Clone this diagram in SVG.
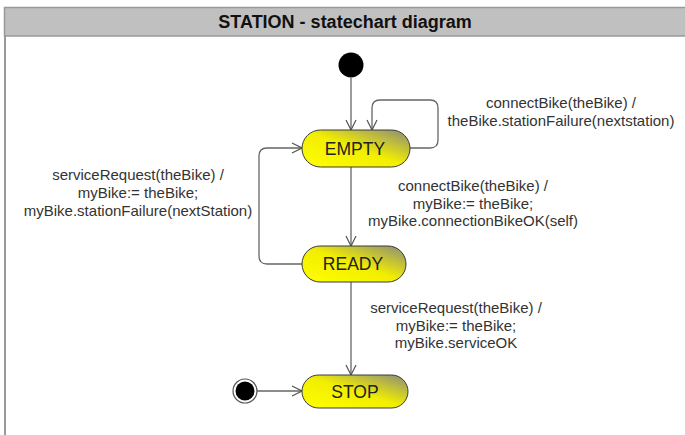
<svg xmlns="http://www.w3.org/2000/svg" width="685" height="435" viewBox="0 0 685 435">
  <defs>
    <linearGradient id="stateFill" x1="0" y1="1" x2="1" y2="0">
      <stop offset="0" stop-color="#ffff00"/>
      <stop offset="0.5" stop-color="#f2ee00"/>
      <stop offset="1" stop-color="#8a8a7c"/>
    </linearGradient>
    <marker id="open" viewBox="0 0 12 12" refX="11" refY="6" markerWidth="12" markerHeight="12" markerUnits="userSpaceOnUse" orient="auto">
      <path d="M1,1 L11,6 L1,11" fill="none" stroke="#555" stroke-width="1.2"/>
    </marker>
  </defs>
  <style>
    .frame { fill: #c0c0c0; stroke: #999; stroke-width: 1.5; }
    .title { font-family: "Liberation Sans", Arial, sans-serif; font-size: 18px; font-weight: bold; fill: #111; text-anchor: middle; }
    .state { fill: url(#stateFill); stroke: #3a3a3a; stroke-width: 1; }
    .stateText { font-family: "Liberation Sans", Arial, sans-serif; font-size: 17.5px; fill: #222; text-anchor: middle; }
    .edge { fill: none; stroke: #666; stroke-width: 1.3; }
    .label { font-family: "Liberation Sans", Arial, sans-serif; font-size: 15px; fill: #333; text-anchor: middle; }
  </style>

  <rect width="685" height="435" fill="#fff"/>

  <!-- frame: title bar and left border -->
  <g id="frame">
    <line x1="5" y1="36" x2="5" y2="435" stroke="#999" stroke-width="2"/>
    <rect class="frame" x="4.5" y="7.5" width="682" height="28.5"/>
    <text class="title" x="345" y="28">STATION - statechart diagram</text>
  </g>

  <!-- transitions -->
  <g id="connectors">
    <line class="edge" x1="351" y1="78" x2="351" y2="130" marker-end="url(#open)"/>
    <path class="edge" d="M410,148 H430 Q438,148 438,140 V108 Q438,100 430,100 H380 Q372,100 372,108 V130" marker-end="url(#open)"/>
    <line class="edge" x1="351" y1="167" x2="351" y2="246" marker-end="url(#open)"/>
    <path class="edge" d="M302,264 H267 Q259,264 259,256 V156 Q259,148 267,148 H302" marker-end="url(#open)"/>
    <line class="edge" x1="351" y1="282" x2="351" y2="375" marker-end="url(#open)"/>
    <line class="edge" x1="257" y1="391" x2="302" y2="391" marker-end="url(#open)"/>
  </g>

  <!-- transition labels -->
  <g id="labels">
    <text class="label" x="561" y="108">connectBike(theBike) /</text>
    <text class="label" x="561" y="126">theBike.stationFailure(nextstation)</text>
    <text class="label" x="138" y="180">serviceRequest(theBike) /</text>
    <text class="label" x="138" y="198">myBike:= theBike;</text>
    <text class="label" x="138" y="216">myBike.stationFailure(nextStation)</text>
    <text class="label" x="473" y="191">connectBike(theBike) /</text>
    <text class="label" x="473" y="209">myBike:= theBike;</text>
    <text class="label" x="473" y="226">myBike.connectionBikeOK(self)</text>
    <text class="label" x="456" y="313">serviceRequest(theBike) /</text>
    <text class="label" x="456" y="331">myBike:= theBike;</text>
    <text class="label" x="456" y="348">myBike.serviceOK</text>
  </g>

  <!-- initial pseudostate -->
  <g id="initial">
    <circle cx="351" cy="65" r="12.5" fill="#000"/>
  </g>

  <g id="empty">
    <rect class="state" x="302" y="130" width="108" height="37" rx="18.5"/>
    <text class="stateText" x="355" y="154.5">EMPTY</text>
  </g>

  <g id="ready">
    <rect class="state" x="302" y="246" width="104" height="36" rx="18"/>
    <text class="stateText" x="353" y="270">READY</text>
  </g>

  <g id="stop">
    <rect class="state" x="302" y="375" width="106" height="33" rx="16.5"/>
    <text class="stateText" x="355" y="397.5">STOP</text>
  </g>

  <!-- second pseudostate feeding STOP -->
  <g id="start2">
    <circle cx="245" cy="391" r="12" fill="#fff" stroke="#555" stroke-width="1.2"/>
    <circle cx="245" cy="391" r="9.5" fill="#000"/>
  </g>
</svg>
